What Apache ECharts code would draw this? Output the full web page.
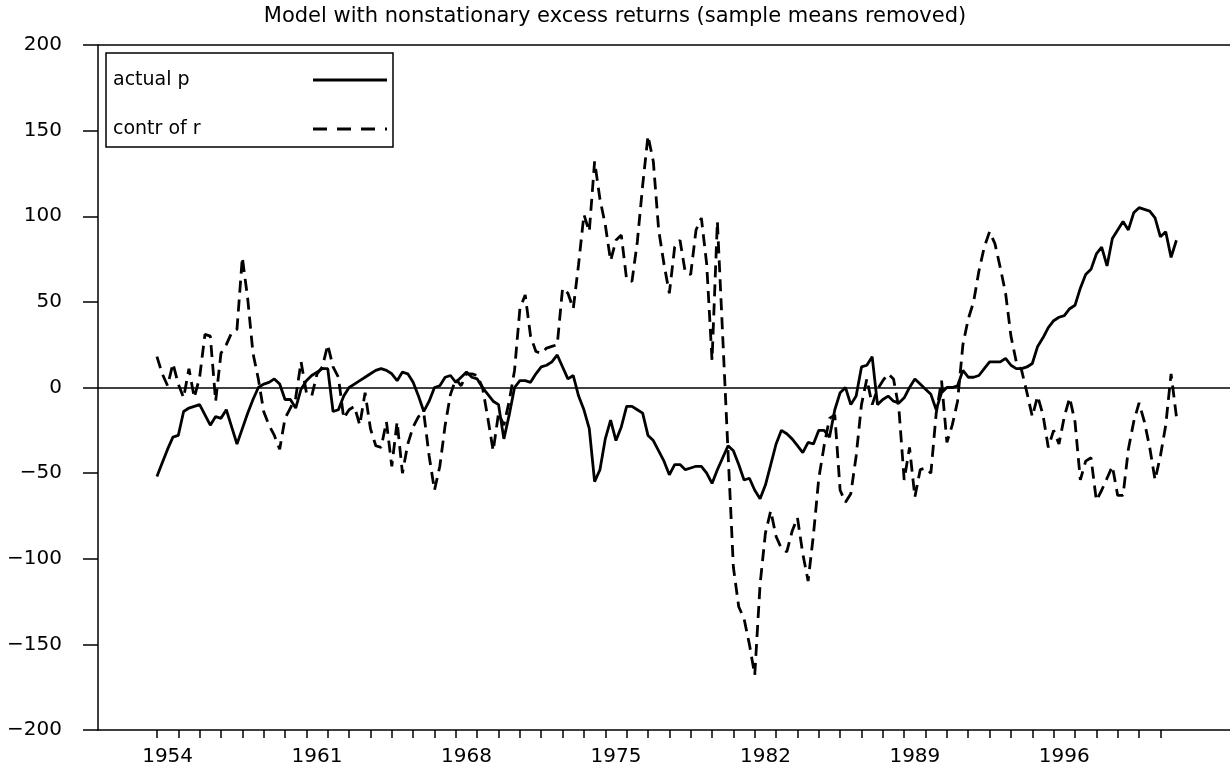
<!DOCTYPE html>
<html>
<head>
<meta charset="utf-8">
<title>actual p / contr of r</title>
<script src="https://cdn.jsdelivr.net/npm/echarts@6/dist/echarts.min.js"></script>
<style>
  html, body { margin: 0; padding: 0; background: #fff; }
  #chart { width: 1230px; height: 780px; }
</style>
</head>
<body>
<div id="chart"></div>
<script>
// quarterly observations, the first one is 1954Q1
const startYear = 1954;
const perYear = 4;

// actual p (solid line), one row per year
const actualP = [
  -52, -44, -36, -29,   // 1954
  -28, -14, -12, -11,   // 1955
  -10, -16, -22, -17,   // 1956
  -18, -13, -23, -33,   // 1957
  -24, -15,  -7,   0,   // 1958
    2,   3,   5,   2,   // 1959
   -7,  -7, -12,  -1,   // 1960
    4,   7,   9,  11,   // 1961
   11, -14, -13,  -5,   // 1962
    0,   2,   4,   6,   // 1963
    8,  10,  11,  10,   // 1964
    8,   4,   9,   8,   // 1965
    3,  -5, -14,  -8,   // 1966
    0,   1,   6,   7,   // 1967
    3,   6,   9,   6,   // 1968
    5,   0,  -4,  -8,   // 1969
  -10, -30, -16,   0,   // 1970
    4,   4,   3,   8,   // 1971
   12,  13,  15,  19,   // 1972
   12,   5,   7,  -5,   // 1973
  -13, -24, -55, -48,   // 1974
  -30, -19, -31, -23,   // 1975
  -11, -11, -13, -15,   // 1976
  -28, -31, -37, -43,   // 1977
  -51, -45, -45, -48,   // 1978
  -47, -46, -46, -50,   // 1979
  -56, -48, -41, -34,   // 1980
  -37, -45, -54, -53,   // 1981
  -60, -65, -57, -45,   // 1982
  -33, -25, -27, -30,   // 1983
  -34, -38, -32, -33,   // 1984
  -25, -25, -29, -13,   // 1985
   -3,   0, -10,  -5,   // 1986
   12,  13,  18, -10,   // 1987
   -7,  -5,  -8,  -9,   // 1988
   -6,   0,   5,   2,   // 1989
   -1,  -4, -13,  -3,   // 1990
    0,   0,   1,  10,   // 1991
    6,   6,   7,  11,   // 1992
   15,  15,  15,  17,   // 1993
   13,  11,  11,  12,   // 1994
   14,  24,  29,  35,   // 1995
   39,  41,  42,  46,   // 1996
   48,  58,  66,  69,   // 1997
   78,  82,  71,  87,   // 1998
   92,  97,  92, 102,   // 1999
  105, 104, 103,  99,   // 2000
   88,  91,  76,  86    // 2001
];

// contr of r (dashed line)
const contrR = [
   18,   8,   1,  14,   // 1954
    2,  -6,  11,  -6,   // 1955
    6,  31,  30,  -8,   // 1956
   20,  25,  32,  34,   // 1957
   76,  52,  20,   5,   // 1958
  -14, -22, -28, -36,   // 1959
  -18, -12,  -6,  15,   // 1960
   -3,  -5,   8,  12,   // 1961
   25,  12,   6, -18,   // 1962
  -13, -11, -22,  -3,   // 1963
  -24, -34, -35, -20,   // 1964
  -46, -20, -50, -33,   // 1965
  -23, -17, -15, -40,   // 1966
  -60, -46, -22,  -4,   // 1967
    5,   1,   8,   8,   // 1968
    7,   0, -18, -37,   // 1969
  -15, -22,  -8,  10,   // 1970
   46,  54,  30,  21,   // 1971
   20,  23,  24,  25,   // 1972
   58,  55,  46,  72,   // 1973
  101,  91, 132, 110,   // 1974
   95,  74,  86,  89,   // 1975
   63,  62,  85, 118,   // 1976
  147, 132,  92,  72,   // 1977
   55,  82,  86,  67,   // 1978
   66,  92,  99,  72,   // 1979
   16,  97,  30, -38,   // 1980
 -105, -128, -135, -150, // 1981
 -168, -115, -85, -72,  // 1982
  -87, -94, -96, -84,   // 1983
  -76, -97, -113, -86,  // 1984
  -53, -34, -18, -16,   // 1985
  -60, -67, -62, -40,   // 1986
  -10,   5, -10,  -1,   // 1987
    4,   8,   5, -12,   // 1988
  -54, -35, -64, -48,   // 1989
  -47, -50, -15,   4,   // 1990
  -32, -22,  -8,  25,   // 1991
   40,  50,  68,  82,   // 1992
   91,  84,  70,  55,   // 1993
   30,  15,  10,  -3,   // 1994
  -17,  -5, -16, -35,   // 1995
  -25, -33, -17,  -6,   // 1996
  -20, -54, -43, -41,   // 1997
  -66, -60, -53, -46,   // 1998
  -63, -63, -36, -20,   // 1999
   -9, -20, -35, -54,   // 2000
  -40, -22,   8, -17    // 2001
];

// x axis: a tick at every year start, a label every seven years (centred mid-year)
const yearTicks = [];
for (let y = 1954; y <= 2001; y++) yearTicks.push(y);
const yearLabels = [1954, 1961, 1968, 1975, 1982, 1989, 1996];

const legendNames = ['actual p', 'contr of r'];

const fontFamily = "'DejaVu Sans', 'Liberation Sans', sans-serif";
const lineWidth = 2.8;
const dashPattern = [12, 7];

const toPairs = vals => vals.map((v, i) => [startYear + i / perYear, v]);

const chart = echarts.init(document.getElementById('chart'));

// legend box drawn by hand: text on the left, line sample on the right
const legendBox = { x: 106, y: 53, w: 287, h: 94 };
const legendRows = [80, 129];
const legendGraphics = [
  {
    type: 'rect',
    z: 100,
    shape: { x: legendBox.x, y: legendBox.y, width: legendBox.w, height: legendBox.h },
    style: { fill: '#fff', stroke: '#000', lineWidth: 1.5 }
  }
];
legendNames.forEach((name, i) => {
  legendGraphics.push({
    type: 'text',
    z: 101,
    x: 113,
    y: legendRows[i],
    style: {
      text: name,
      font: '19px ' + fontFamily,
      fill: '#000',
      textVerticalAlign: 'middle'
    }
  });
  legendGraphics.push({
    type: 'line',
    z: 101,
    shape: { x1: 313, y1: legendRows[i], x2: 387, y2: legendRows[i] },
    style: {
      stroke: '#000',
      lineWidth: lineWidth,
      lineDash: i === 0 ? null : [14, 10]
    }
  });
});

const option = {
  animation: false,
  backgroundColor: '#ffffff',
  title: {
    text: 'Model with nonstationary excess returns (sample means removed)',
    left: 'center',
    top: 1,
    textStyle: {
      fontFamily: fontFamily,
      fontSize: 21,
      fontWeight: 'normal',
      color: '#000'
    }
  },
  graphic: legendGraphics,
  grid: {
    left: 98,
    right: 0,
    top: 45,
    bottom: 50
  },
  xAxis: {
    type: 'value',
    min: 1951.24,
    max: 2004.26,
    axisLine: {
      onZero: false,
      lineStyle: { color: '#000', width: 1.5 }
    },
    axisTick: {
      customValues: yearTicks,
      length: 8,
      lineStyle: { color: '#000', width: 1.5 }
    },
    axisLabel: {
      customValues: yearLabels.map(y => y + 0.5),
      formatter: v => String(Math.floor(v)),
      margin: 17,
      fontFamily: fontFamily,
      fontSize: 20,
      color: '#000'
    },
    splitLine: { show: false }
  },
  yAxis: {
    type: 'value',
    min: -200,
    max: 200,
    interval: 50,
    axisLine: {
      show: true,
      lineStyle: { color: '#000', width: 1.5 }
    },
    axisTick: {
      show: true,
      length: 15,
      lineStyle: { color: '#000', width: 1.5 }
    },
    axisLabel: {
      margin: 36,
      formatter: v => (v < 0 ? '\u2212' + Math.abs(v) : String(v)),
      fontFamily: fontFamily,
      fontSize: 20,
      color: '#000'
    },
    splitLine: { show: false }
  },
  series: [
    {
      name: legendNames[0],
      type: 'line',
      data: toPairs(actualP),
      symbol: 'none',
      itemStyle: { color: '#000' },
      lineStyle: { color: '#000', width: lineWidth, type: 'solid' },
      markLine: {
        silent: true,
        symbol: 'none',
        label: { show: false },
        lineStyle: { color: '#000', width: 1.5, type: 'solid' },
        data: [{ yAxis: 0 }, { yAxis: 200 }]
      }
    },
    {
      name: legendNames[1],
      type: 'line',
      data: toPairs(contrR),
      symbol: 'none',
      itemStyle: { color: '#000' },
      lineStyle: { color: '#000', width: lineWidth, type: dashPattern }
    }
  ]
};

chart.setOption(option);
</script>
</body>
</html>
